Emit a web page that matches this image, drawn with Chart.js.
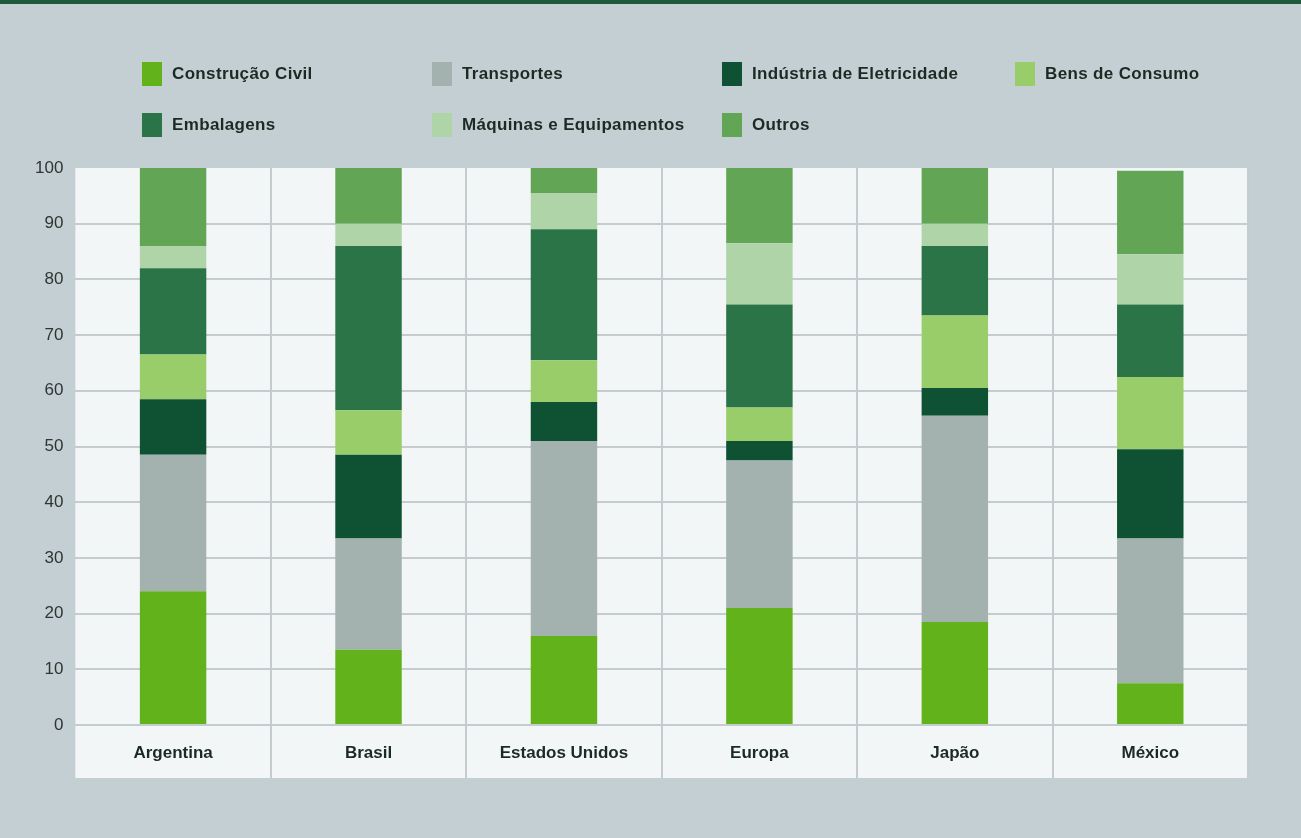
<!DOCTYPE html>
<html>
<head>
<meta charset="utf-8">
<script src="https://cdn.jsdelivr.net/npm/chart.js@4"></script>
<style>
  html, body { margin: 0; padding: 0; }
  body {
    width: 1301px; height: 838px; overflow: hidden; position: relative;
    background: #c4cfd3; border-top: 4px solid #1e5a3c; box-sizing: border-box;
    font-family: "Liberation Sans", Arial, sans-serif;
  }
  #wrap { position: absolute; left: 0; top: -4px; width: 1301px; height: 838px; }
  #legend {
    position: absolute; left: 142px; top: 58px;
    display: grid; grid-template-columns: 290px 290px 293px 260px; row-gap: 27px;
  }
  .item { display: flex; align-items: center; height: 24px; }
  .box { width: 20px; height: 24px; margin-right: 10px; }
  .txt { font-weight: bold; font-size: 17px; letter-spacing: 0.35px; color: #1c2a24; }
</style>
</head>
<body>
<div id="wrap"><canvas id="chart" width="1301" height="838"></canvas></div>
<div id="legend"></div>
<script>
const categories = ["Argentina", "Brasil", "Estados Unidos", "Europa", "Japão", "México"];
const construcao = [24, 13.5, 16, 21, 18.5, 7.5];
const transportes = [24.5, 20, 35, 26.5, 37, 26];
const eletricidade = [10, 15, 7, 3.5, 5, 16];
const bensConsumo = [8, 8, 7.5, 6, 13, 13];
const embalagens = [15.5, 29.5, 23.5, 18.5, 12.5, 13];
const maquinas = [4, 4, 6.5, 11, 4, 9];
const outros = [14, 10, 4.5, 13.5, 10, 15];
const yTicks = [0, 10, 20, 30, 40, 50, 60, 70, 80, 90, 100];

const labelBand = 53; // faixa branca dos nomes dos países

// fundo branco da área do gráfico, incluindo a faixa dos rótulos
const plotBg = {
  id: "plotBg",
  beforeDraw(chart) {
    const { ctx, chartArea } = chart;
    ctx.save();
    ctx.fillStyle = "#f3f6f7";
    ctx.fillRect(chartArea.left, chartArea.top, chartArea.right - chartArea.left, chartArea.bottom - chartArea.top + labelBand);
    ctx.restore();
  },
};

const ctx = document.getElementById("chart").getContext("2d");
const chart = new Chart(ctx, {
  type: "bar",
  data: {
    labels: categories,
    datasets: [
      { label: "Construção Civil", data: construcao, backgroundColor: "#62b31b" },
      { label: "Transportes", data: transportes, backgroundColor: "#a3b1af" },
      { label: "Indústria de Eletricidade", data: eletricidade, backgroundColor: "#0e5233" },
      { label: "Bens de Consumo", data: bensConsumo, backgroundColor: "#98cd69" },
      { label: "Embalagens", data: embalagens, backgroundColor: "#2a7447" },
      { label: "Máquinas e Equipamentos", data: maquinas, backgroundColor: "#aed4a8" },
      { label: "Outros", data: outros, backgroundColor: "#62a655" },
    ],
  },
  options: {
    responsive: false,
    animation: false,
    layout: { padding: { left: 23, right: 53, top: 168, bottom: 60 } },
    datasets: { bar: { categoryPercentage: 1, barPercentage: 0.34, borderWidth: 0 } },
    plugins: { legend: { display: false }, tooltip: { enabled: false } },
    scales: {
      x: {
        stacked: true,
        border: { display: false },
        afterFit: (axis) => { axis.height = labelBand; },
        grid: {
          offset: true,
          tickLength: labelBand,
          lineWidth: 2,
          color: (c) => (c.index === 0 || c.index === categories.length ? "rgba(0,0,0,0)" : "#c4ccd0"),
        },
        ticks: {
          padding: -35,
          color: "#1c2a24",
          font: { family: "Liberation Sans", size: 17, weight: "bold" },
        },
      },
      y: {
        stacked: true,
        min: 0,
        max: 100,
        border: { display: false },
        afterBuildTicks: (axis) => { axis.ticks = yTicks.map((v) => ({ value: v })); },
        grid: {
          drawTicks: false,
          lineWidth: 2,
          color: (c) => (c.tick && c.tick.value === 100 ? "rgba(0,0,0,0)" : "#c4ccd0"),
        },
        ticks: {
          padding: 12,
          color: "#2e3532",
          font: { family: "Liberation Sans", size: 17 },
        },
      },
    },
  },
  plugins: [plotBg],
});

// legenda em HTML, em grade de 4 colunas
const legend = document.getElementById("legend");
chart.data.datasets.forEach((ds) => {
  const item = document.createElement("div");
  item.className = "item";
  const box = document.createElement("span");
  box.className = "box";
  box.style.background = ds.backgroundColor;
  const txt = document.createElement("span");
  txt.className = "txt";
  txt.textContent = ds.label;
  item.appendChild(box);
  item.appendChild(txt);
  legend.appendChild(item);
});
</script>
</body>
</html>
